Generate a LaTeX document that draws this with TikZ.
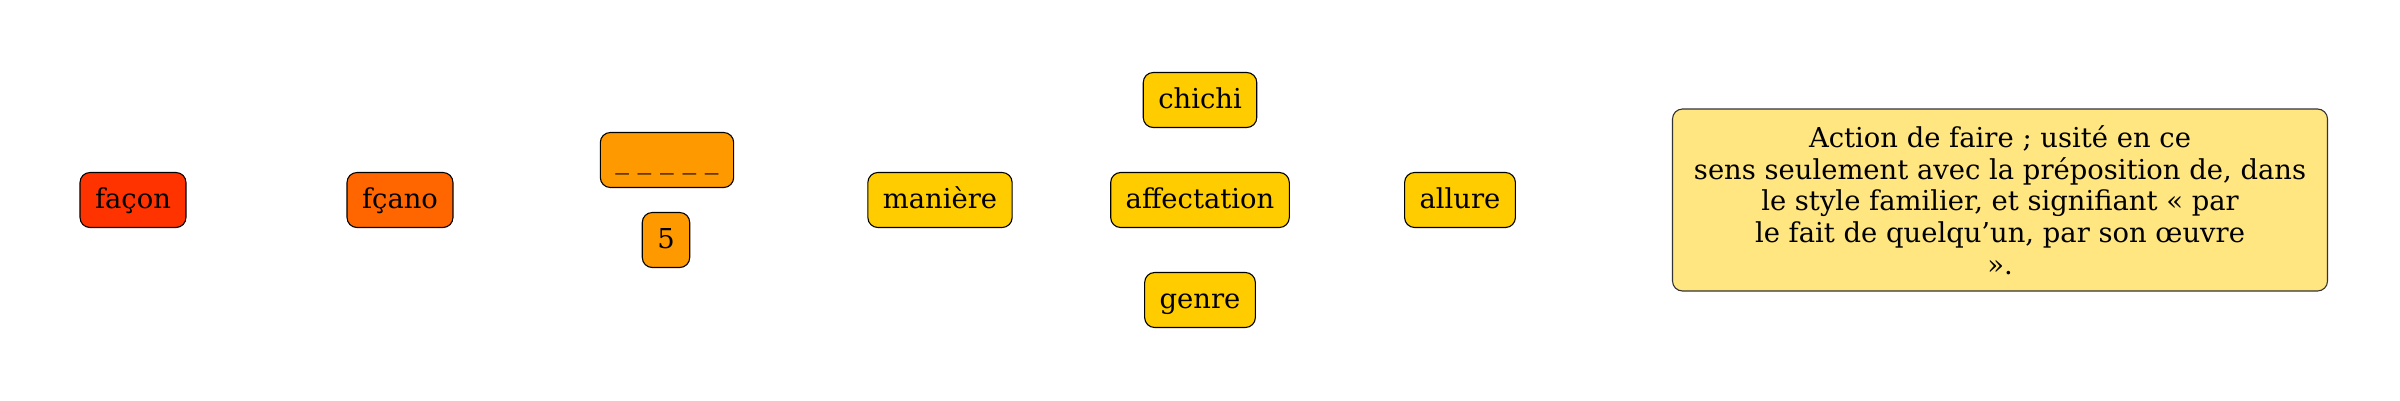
\documentclass[tikz,border=0pt]{standalone}
\usepackage{fontspec}
\setmainfont{DejaVu Serif}
\definecolor{cfacon}{HTML}{FF3300}
\definecolor{cfcano}{HTML}{FF6600}
\definecolor{cmid}{HTML}{FF9900}
\definecolor{cyel}{HTML}{FFCC00}
\definecolor{cdef}{HTML}{FFE680}
\tikzset{
  wbox/.style={draw=black, line width=1.1pt, rounded corners=10pt, minimum height=55pt,
    inner xsep=15pt, inner ysep=0pt, text height=20pt, text depth=4pt,
    font=\fontsize{27.4}{32}\selectfont},
  defbox/.style={draw=black!80, line width=1.1pt, rounded corners=10pt, fill=cdef,
    minimum width=655pt, minimum height=182pt, align=center,
    font=\fontsize{27.4}{31.7}\selectfont}
}
\begin{document}
\begin{tikzpicture}[x=1pt,y=-1pt]
  \useasboundingbox (0,0) rectangle (2400,400);
  \node [wbox, fill=cfacon] (facon) at (133,200) {façon};
  \node [wbox, fill=cfcano] (fcano) at (400,200) {fçano};
  \node [wbox, fill=cmid] (blanks) at (667,160) {\_ \_ \_ \_ \_};
  \node [wbox, fill=cmid] (cinq) at (666,240) {5};
  \node [wbox, fill=cyel] (maniere) at (940,200) {manière};
  \node [wbox, fill=cyel] (affect) at (1200,200) {affectation};
  \node [wbox, fill=cyel] (chichi) at (1200,100) {chichi};
  \node [wbox, fill=cyel] (genre) at (1200,300) {genre};
  \node [wbox, fill=cyel] (allure) at (1460,200) {allure};
  \node [defbox] (defn) at (2000,200) {Action de faire ; usité en ce\\
    sens seulement avec la préposition de, dans\\
    le style familier, et signifiant « par\\
    le fait de quelqu’un, par son œuvre\\
    ».};
\end{tikzpicture}
\end{document}
